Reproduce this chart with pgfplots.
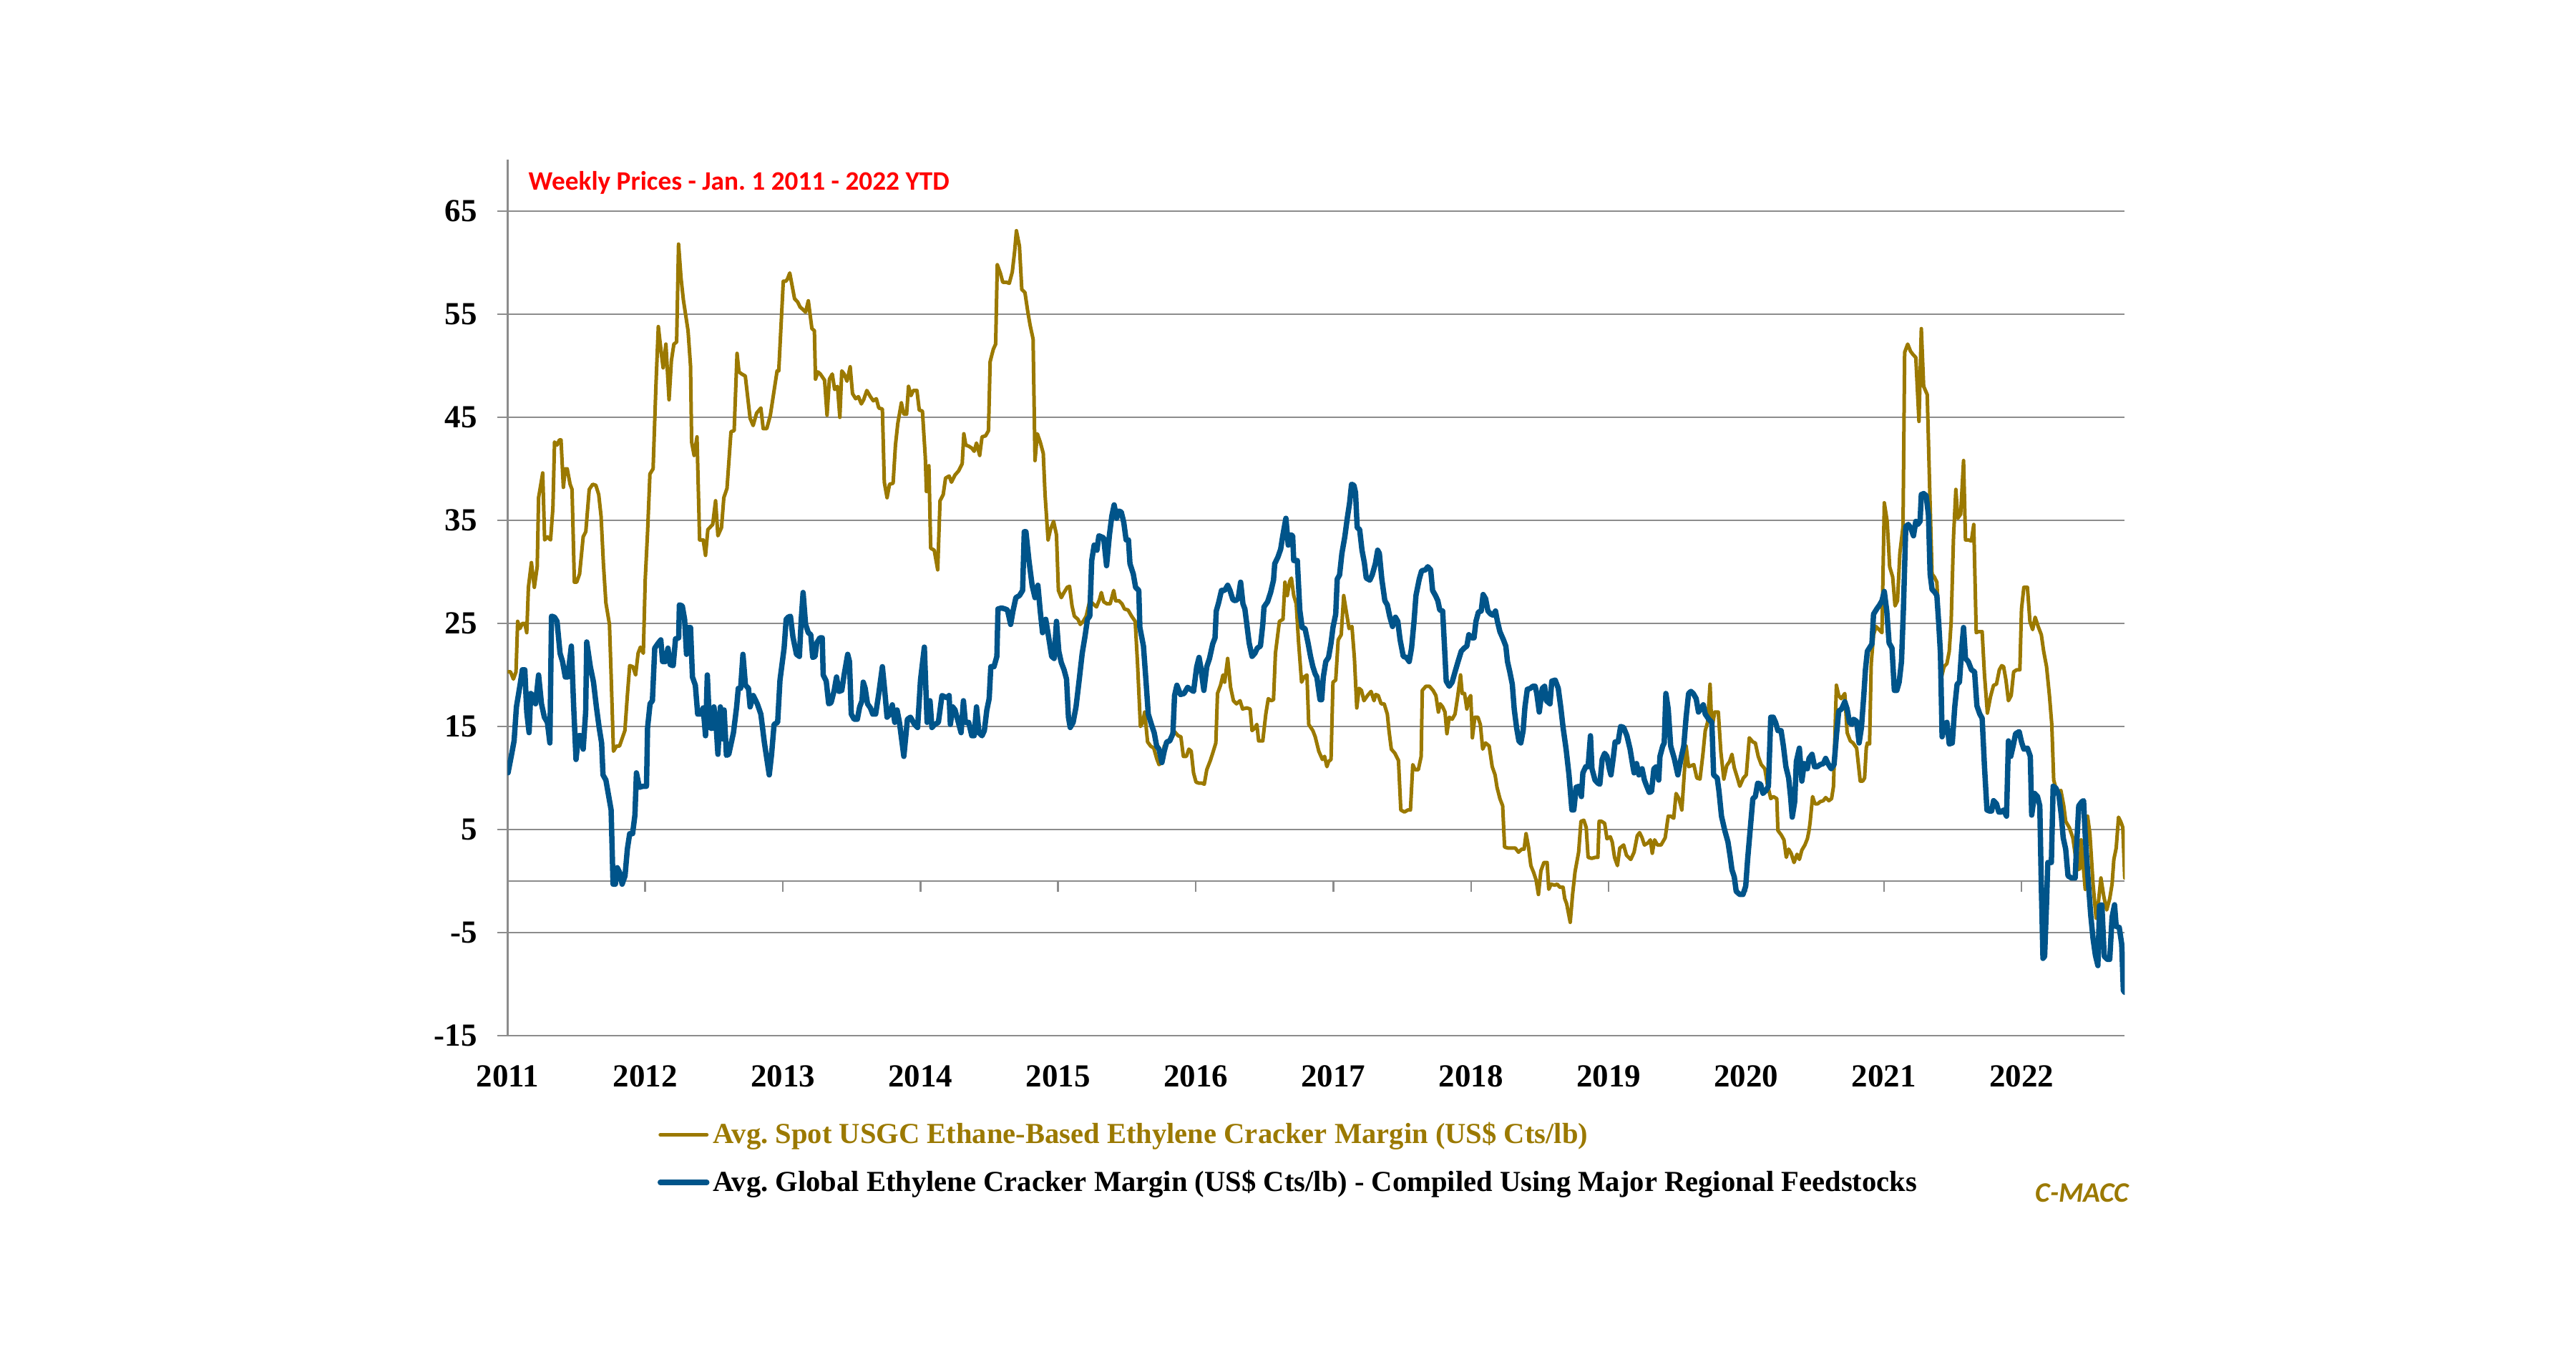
\documentclass[border=0pt]{standalone}
\usepackage{pgfplots}
\usepackage{pgfplotstable}
\pgfplotsset{compat=1.18}
\usepackage{fontspec}
\setmainfont{Liberation Serif}
\newfontfamily\calibri{Carlito}
\definecolor{gold}{RGB}{155,121,0}
\definecolor{navy}{RGB}{0,84,138}
\definecolor{gridgray}{RGB}{140,140,140}

\pgfplotstableread{
x y
2011.003 20.3
2011.021 20.3
2011.042 19.6
2011.061 20.3
2011.073 25.2
2011.090 24.5
2011.107 25.0
2011.125 25.0
2011.139 24.1
2011.151 28.5
2011.173 30.9
2011.194 28.5
2011.215 30.5
2011.225 37.2
2011.255 39.6
2011.269 33.1
2011.289 33.4
2011.312 33.1
2011.329 36.2
2011.341 42.6
2011.359 42.3
2011.376 42.8
2011.388 42.8
2011.405 38.2
2011.419 40.0
2011.433 40.0
2011.454 38.5
2011.468 38.0
2011.485 29.0
2011.502 29.0
2011.523 29.8
2011.549 33.4
2011.568 33.9
2011.593 38.0
2011.618 38.5
2011.641 38.4
2011.662 37.5
2011.679 35.4
2011.696 30.8
2011.714 27.0
2011.740 24.9
2011.752 20.0
2011.769 12.6
2011.792 13.1
2011.813 13.1
2011.852 14.6
2011.870 18.0
2011.887 20.9
2011.910 20.8
2011.930 20.0
2011.948 22.1
2011.965 22.7
2011.986 22.1
2012.000 29.3
2012.017 33.9
2012.034 39.5
2012.057 40.0
2012.078 48.2
2012.095 53.8
2012.116 51.3
2012.130 49.8
2012.150 52.1
2012.173 46.7
2012.190 50.5
2012.208 52.1
2012.228 52.3
2012.242 61.8
2012.260 58.5
2012.277 56.4
2012.294 54.9
2012.311 53.4
2012.329 50.0
2012.337 42.6
2012.355 41.3
2012.376 43.1
2012.395 33.1
2012.421 33.1
2012.438 31.6
2012.455 34.1
2012.490 34.6
2012.511 36.9
2012.528 33.5
2012.554 34.3
2012.571 37.2
2012.594 38.1
2012.623 43.6
2012.646 43.7
2012.667 51.2
2012.681 49.4
2012.701 49.2
2012.727 49.0
2012.762 44.9
2012.784 44.2
2012.809 45.4
2012.840 45.9
2012.857 43.9
2012.883 43.9
2012.909 45.2
2012.958 49.5
2012.970 49.5
2013.003 58.2
2013.021 58.2
2013.033 58.4
2013.050 59.0
2013.064 58.0
2013.085 56.5
2013.107 56.2
2013.125 55.7
2013.142 55.5
2013.165 55.2
2013.185 56.3
2013.211 53.6
2013.229 53.4
2013.237 48.7
2013.255 49.4
2013.272 49.2
2013.303 48.6
2013.321 45.2
2013.338 48.7
2013.359 49.2
2013.376 47.7
2013.397 48.0
2013.414 45.0
2013.428 49.5
2013.445 49.2
2013.466 48.5
2013.489 49.9
2013.506 47.3
2013.529 46.8
2013.549 47.0
2013.570 46.3
2013.587 46.7
2013.610 47.6
2013.636 47.0
2013.657 46.6
2013.679 46.8
2013.697 45.9
2013.723 45.8
2013.737 38.7
2013.757 37.2
2013.775 38.5
2013.801 38.6
2013.818 42.3
2013.835 44.4
2013.861 46.4
2013.879 45.3
2013.899 45.3
2013.913 48.0
2013.931 47.1
2013.948 47.6
2013.974 47.6
2013.991 45.7
2014.014 45.6
2014.035 41.1
2014.043 37.8
2014.061 40.3
2014.074 32.3
2014.100 32.1
2014.125 30.2
2014.142 36.9
2014.165 37.5
2014.182 39.1
2014.208 39.3
2014.225 38.7
2014.251 39.4
2014.277 39.8
2014.303 40.5
2014.315 43.4
2014.329 42.3
2014.350 42.2
2014.373 42.0
2014.390 41.7
2014.407 42.5
2014.430 41.3
2014.447 43.1
2014.473 43.2
2014.494 43.7
2014.506 50.4
2014.529 51.6
2014.546 52.1
2014.558 59.8
2014.580 59.0
2014.598 58.1
2014.624 58.1
2014.645 58.0
2014.667 59.1
2014.684 61.1
2014.697 63.1
2014.719 61.6
2014.736 57.4
2014.759 57.1
2014.780 55.2
2014.797 53.9
2014.818 52.6
2014.832 40.8
2014.849 43.4
2014.870 42.6
2014.892 41.5
2014.905 37.5
2014.927 33.1
2014.944 34.1
2014.967 34.9
2014.988 33.6
2015.002 28.2
2015.023 27.5
2015.043 28.0
2015.066 28.5
2015.083 28.6
2015.101 26.7
2015.118 25.7
2015.144 25.4
2015.161 24.9
2015.182 25.2
2015.204 25.7
2015.230 27.2
2015.253 26.9
2015.279 26.6
2015.300 27.3
2015.314 28.0
2015.331 27.1
2015.355 26.9
2015.378 26.9
2015.404 28.2
2015.418 27.2
2015.442 27.2
2015.464 26.9
2015.482 26.4
2015.508 26.3
2015.534 25.7
2015.560 25.2
2015.577 21.1
2015.598 15.0
2015.615 15.4
2015.629 16.4
2015.650 13.5
2015.672 13.1
2015.695 12.9
2015.716 11.9
2015.733 11.3
2015.754 11.5
2015.771 13.1
2015.794 13.4
2015.820 13.9
2015.846 14.5
2015.872 14.1
2015.892 14.0
2015.910 12.1
2015.932 12.1
2015.950 12.8
2015.967 12.6
2015.984 10.5
2016.002 9.6
2016.024 9.5
2016.045 9.5
2016.062 9.4
2016.080 10.8
2016.106 11.7
2016.123 12.4
2016.146 13.4
2016.158 18.2
2016.180 19.0
2016.198 20.0
2016.210 19.3
2016.232 21.6
2016.253 18.8
2016.274 17.5
2016.296 17.2
2016.322 17.5
2016.340 16.7
2016.371 16.8
2016.395 16.7
2016.409 14.6
2016.426 14.8
2016.444 15.2
2016.457 13.6
2016.487 13.6
2016.509 16.2
2016.527 17.7
2016.548 17.5
2016.565 17.6
2016.579 22.1
2016.608 25.2
2016.634 25.4
2016.648 29.0
2016.665 27.7
2016.683 29.1
2016.695 29.4
2016.712 27.7
2016.730 26.9
2016.747 23.2
2016.769 19.3
2016.787 19.8
2016.808 20.0
2016.821 15.2
2016.851 14.6
2016.868 14.0
2016.894 12.6
2016.920 11.8
2016.936 12.1
2016.953 11.1
2016.965 11.6
2016.983 11.8
2016.997 19.3
2017.017 19.5
2017.035 23.4
2017.057 23.9
2017.075 27.7
2017.092 26.3
2017.114 24.5
2017.135 24.7
2017.153 21.6
2017.170 16.8
2017.187 18.7
2017.204 18.5
2017.222 17.5
2017.248 18.0
2017.274 18.4
2017.295 17.5
2017.308 18.1
2017.326 18.0
2017.347 17.2
2017.369 17.2
2017.392 16.2
2017.404 14.6
2017.421 12.8
2017.447 12.4
2017.473 11.7
2017.490 6.9
2017.516 6.7
2017.542 6.9
2017.560 6.9
2017.577 11.3
2017.594 10.8
2017.617 10.8
2017.638 12.1
2017.646 18.5
2017.672 18.9
2017.698 18.9
2017.724 18.5
2017.745 18.0
2017.763 16.4
2017.776 17.2
2017.794 16.9
2017.811 16.4
2017.825 14.3
2017.842 15.9
2017.863 15.7
2017.884 16.2
2017.901 17.7
2017.924 20.0
2017.936 18.2
2017.953 18.2
2017.970 16.7
2017.984 17.7
2017.998 18.0
2018.010 13.9
2018.028 15.9
2018.050 15.9
2018.068 15.2
2018.085 12.8
2018.106 13.4
2018.132 13.1
2018.154 11.1
2018.175 10.3
2018.189 9.1
2018.210 8.0
2018.230 7.3
2018.244 3.3
2018.270 3.2
2018.296 3.2
2018.322 3.2
2018.345 2.8
2018.369 3.1
2018.386 3.1
2018.400 4.6
2018.418 3.3
2018.435 1.5
2018.456 0.8
2018.473 0.1
2018.490 -1.3
2018.508 1.0
2018.530 1.8
2018.553 1.8
2018.565 -0.8
2018.582 -0.3
2018.608 -0.4
2018.626 -0.3
2018.646 -0.6
2018.669 -0.6
2018.681 -1.7
2018.695 -2.2
2018.721 -4.0
2018.738 -1.3
2018.756 0.9
2018.782 2.8
2018.799 5.8
2018.820 5.9
2018.837 5.2
2018.851 2.3
2018.877 2.2
2018.903 2.3
2018.922 2.3
2018.931 5.8
2018.948 5.8
2018.971 5.6
2018.988 4.1
2019.012 4.3
2019.026 3.8
2019.043 2.3
2019.064 1.5
2019.081 3.2
2019.109 3.5
2019.130 2.5
2019.161 2.1
2019.185 2.8
2019.208 4.4
2019.225 4.7
2019.243 4.2
2019.260 3.5
2019.286 3.7
2019.303 4.0
2019.317 2.7
2019.334 4.0
2019.355 3.5
2019.381 3.5
2019.411 4.2
2019.433 6.3
2019.451 6.3
2019.473 6.1
2019.490 8.5
2019.511 8.0
2019.532 6.9
2019.546 9.7
2019.563 13.1
2019.581 11.1
2019.601 11.2
2019.619 11.3
2019.641 10.0
2019.664 9.9
2019.685 12.3
2019.702 14.6
2019.719 15.4
2019.737 19.1
2019.750 14.8
2019.771 16.4
2019.797 16.4
2019.815 12.6
2019.837 9.9
2019.858 11.2
2019.879 11.6
2019.896 12.3
2019.913 11.0
2019.936 10.0
2019.953 9.2
2019.979 10.0
2020.000 10.3
2020.022 13.9
2020.048 13.5
2020.066 13.4
2020.087 12.1
2020.109 11.3
2020.135 10.9
2020.152 9.5
2020.178 8.0
2020.196 8.2
2020.222 8.0
2020.230 4.9
2020.253 4.5
2020.274 4.0
2020.291 2.3
2020.308 3.1
2020.326 2.7
2020.347 1.8
2020.369 2.6
2020.386 2.1
2020.404 3.0
2020.426 3.5
2020.444 4.1
2020.456 4.9
2020.464 5.7
2020.482 8.2
2020.499 7.5
2020.520 7.5
2020.537 7.7
2020.560 7.8
2020.577 8.1
2020.600 7.8
2020.620 8.0
2020.634 9.2
2020.646 14.9
2020.655 19.0
2020.672 18.0
2020.690 17.7
2020.716 18.2
2020.733 14.4
2020.756 13.6
2020.776 13.4
2020.802 12.9
2020.828 9.7
2020.846 9.7
2020.860 10.0
2020.872 12.9
2020.880 13.4
2020.896 13.3
2020.908 21.1
2020.925 23.9
2020.943 24.7
2020.965 24.4
2020.986 24.1
2021.003 36.7
2021.024 34.9
2021.042 30.5
2021.064 29.5
2021.081 26.7
2021.099 27.2
2021.116 31.8
2021.139 34.4
2021.151 51.3
2021.173 52.1
2021.194 51.4
2021.211 51.1
2021.232 50.8
2021.255 44.6
2021.272 53.6
2021.289 48.0
2021.315 47.2
2021.333 38.0
2021.350 29.8
2021.367 29.5
2021.385 29.0
2021.402 24.1
2021.419 19.8
2021.437 20.8
2021.458 21.1
2021.475 22.3
2021.489 25.2
2021.506 33.4
2021.523 38.0
2021.537 35.2
2021.558 35.6
2021.579 40.8
2021.593 33.1
2021.613 33.1
2021.636 33.0
2021.653 34.6
2021.671 24.1
2021.688 24.2
2021.714 24.2
2021.731 20.0
2021.752 16.3
2021.775 17.9
2021.797 19.0
2021.818 19.1
2021.839 20.5
2021.856 20.9
2021.870 20.8
2021.887 19.5
2021.905 17.5
2021.925 18.0
2021.943 20.3
2021.965 20.5
2021.988 20.5
2022.000 26.4
2022.017 28.5
2022.043 28.5
2022.061 25.2
2022.081 24.4
2022.099 25.6
2022.121 24.7
2022.144 23.9
2022.161 22.3
2022.182 20.8
2022.203 18.0
2022.220 15.2
2022.234 9.8
2022.260 8.5
2022.286 8.8
2022.307 7.3
2022.321 5.8
2022.347 5.2
2022.373 4.2
2022.390 2.6
2022.407 1.1
2022.425 1.2
2022.433 4.0
2022.451 1.1
2022.463 -0.8
2022.480 6.3
2022.497 4.6
2022.520 -0.3
2022.542 -3.6
2022.560 -1.9
2022.577 0.3
2022.598 -1.5
2022.619 -2.8
2022.641 -1.7
2022.658 -0.3
2022.671 2.1
2022.688 3.2
2022.705 6.2
2022.723 5.7
2022.736 5.2
2022.750 0.3
}\goldtab

\pgfplotstableread{
x y
2011.003 10.5
2011.029 12.3
2011.047 13.6
2011.064 16.9
2011.090 19.0
2011.107 20.5
2011.125 20.5
2011.139 16.4
2011.156 14.4
2011.168 18.2
2011.185 18.0
2011.203 17.2
2011.225 20.0
2011.246 17.2
2011.267 15.9
2011.289 15.4
2011.307 13.4
2011.319 25.7
2011.341 25.6
2011.359 25.2
2011.381 22.1
2011.399 21.3
2011.419 19.8
2011.437 19.8
2011.463 22.8
2011.480 16.9
2011.497 11.8
2011.515 14.1
2011.532 14.1
2011.549 12.8
2011.567 16.4
2011.575 23.2
2011.601 20.8
2011.624 19.3
2011.645 16.9
2011.665 14.9
2011.683 13.4
2011.693 10.3
2011.714 9.8
2011.735 8.2
2011.752 6.9
2011.766 -0.3
2011.783 -0.3
2011.797 1.3
2011.815 0.8
2011.832 -0.3
2011.853 0.5
2011.870 3.1
2011.887 4.6
2011.908 4.6
2011.925 6.4
2011.936 10.5
2011.957 9.1
2011.983 9.2
2012.009 9.2
2012.017 14.9
2012.035 17.2
2012.052 17.5
2012.069 22.6
2012.095 23.1
2012.113 23.4
2012.126 21.3
2012.147 21.3
2012.165 22.6
2012.182 21.0
2012.203 20.9
2012.220 23.5
2012.243 23.6
2012.248 26.8
2012.269 26.7
2012.286 25.4
2012.300 22.0
2012.312 24.6
2012.329 24.6
2012.343 19.8
2012.364 19.0
2012.381 16.2
2012.404 16.2
2012.421 16.8
2012.438 14.1
2012.451 20.0
2012.468 14.9
2012.485 14.8
2012.499 16.9
2012.516 14.9
2012.528 12.3
2012.546 16.9
2012.559 13.8
2012.573 16.6
2012.590 12.2
2012.607 12.3
2012.641 14.4
2012.664 16.9
2012.676 18.7
2012.693 18.7
2012.710 22.0
2012.728 19.0
2012.750 18.7
2012.762 16.9
2012.785 18.0
2012.814 17.2
2012.840 16.2
2012.866 13.4
2012.901 10.3
2012.918 12.3
2012.936 15.2
2012.962 15.4
2012.979 19.5
2013.009 22.6
2013.024 25.4
2013.038 25.6
2013.055 25.7
2013.073 23.7
2013.099 22.0
2013.120 21.8
2013.133 25.3
2013.147 28.0
2013.165 24.9
2013.185 24.1
2013.203 23.9
2013.217 21.7
2013.234 21.8
2013.246 23.1
2013.269 23.6
2013.286 23.6
2013.293 20.0
2013.315 19.4
2013.333 17.2
2013.350 17.3
2013.373 18.5
2013.390 19.8
2013.407 18.4
2013.428 18.5
2013.445 20.0
2013.471 22.0
2013.484 21.3
2013.497 16.2
2013.518 15.7
2013.541 15.7
2013.558 16.9
2013.575 17.5
2013.584 19.3
2013.598 18.7
2013.615 17.2
2013.636 16.8
2013.653 16.2
2013.674 16.2
2013.697 18.2
2013.723 20.8
2013.740 18.5
2013.757 15.9
2013.778 16.2
2013.795 17.1
2013.813 15.4
2013.830 16.6
2013.847 15.4
2013.879 12.1
2013.905 15.7
2013.927 15.9
2013.957 15.2
2013.979 14.9
2014.000 19.5
2014.028 22.7
2014.048 15.4
2014.069 17.5
2014.083 14.9
2014.104 15.2
2014.130 15.4
2014.156 18.0
2014.173 17.9
2014.191 17.8
2014.208 18.0
2014.217 15.2
2014.234 16.9
2014.251 16.6
2014.269 15.7
2014.295 14.4
2014.312 17.5
2014.326 15.4
2014.350 15.4
2014.373 14.1
2014.390 14.1
2014.407 16.9
2014.425 14.4
2014.447 14.1
2014.464 14.6
2014.482 16.6
2014.499 17.7
2014.511 20.8
2014.534 20.8
2014.555 21.8
2014.563 26.4
2014.589 26.5
2014.615 26.4
2014.632 26.3
2014.655 24.9
2014.672 26.2
2014.693 27.5
2014.719 27.7
2014.742 28.2
2014.754 33.9
2014.766 33.9
2014.788 31.1
2014.811 28.7
2014.832 27.5
2014.853 28.7
2014.870 26.2
2014.887 24.1
2014.910 25.4
2014.932 23.6
2014.953 21.8
2014.971 21.6
2014.988 25.2
2015.005 22.3
2015.023 21.2
2015.043 20.5
2015.061 19.6
2015.075 15.9
2015.088 14.9
2015.109 15.4
2015.130 16.9
2015.153 19.5
2015.175 22.1
2015.196 23.8
2015.213 25.4
2015.230 25.7
2015.244 31.1
2015.262 32.6
2015.282 32.1
2015.296 33.5
2015.314 33.4
2015.331 33.3
2015.352 30.6
2015.373 33.6
2015.390 35.4
2015.407 36.5
2015.425 35.2
2015.442 35.9
2015.459 35.8
2015.477 34.8
2015.494 33.1
2015.511 33.1
2015.522 30.8
2015.546 29.8
2015.563 28.5
2015.586 28.2
2015.594 24.6
2015.620 22.8
2015.638 19.5
2015.655 16.2
2015.678 15.2
2015.698 14.4
2015.716 13.1
2015.733 12.8
2015.754 11.5
2015.771 12.6
2015.789 13.5
2015.811 13.6
2015.834 14.3
2015.846 18.0
2015.863 19.0
2015.889 18.1
2015.915 18.2
2015.941 18.8
2015.962 18.6
2015.984 18.4
2016.007 20.8
2016.024 21.7
2016.036 20.8
2016.059 18.5
2016.080 20.8
2016.100 21.6
2016.123 23.0
2016.140 23.6
2016.149 26.2
2016.166 27.0
2016.187 28.2
2016.210 28.2
2016.232 28.7
2016.249 28.2
2016.270 27.3
2016.288 27.2
2016.308 27.4
2016.326 29.0
2016.343 26.9
2016.357 26.4
2016.374 24.6
2016.388 23.1
2016.409 21.8
2016.430 22.1
2016.447 22.6
2016.470 22.8
2016.487 24.9
2016.496 26.6
2016.522 27.1
2016.544 28.0
2016.565 29.2
2016.574 30.8
2016.596 31.4
2016.617 32.2
2016.631 33.4
2016.655 35.2
2016.672 32.6
2016.690 33.6
2016.704 33.5
2016.712 31.1
2016.738 31.1
2016.756 26.3
2016.773 24.6
2016.794 24.5
2016.816 23.1
2016.834 21.8
2016.851 20.8
2016.868 20.1
2016.880 19.8
2016.903 17.6
2016.915 17.6
2016.927 19.8
2016.945 21.3
2016.965 21.7
2016.983 23.1
2016.997 24.6
2017.017 25.9
2017.028 29.3
2017.045 29.7
2017.062 31.8
2017.083 33.4
2017.101 35.2
2017.118 36.7
2017.132 38.5
2017.149 38.4
2017.161 37.7
2017.173 34.3
2017.191 34.1
2017.208 32.1
2017.225 30.9
2017.239 29.4
2017.265 29.2
2017.282 29.7
2017.305 30.8
2017.322 32.1
2017.334 31.8
2017.352 29.3
2017.374 27.2
2017.392 26.8
2017.409 25.7
2017.430 24.7
2017.451 25.6
2017.468 25.2
2017.485 23.4
2017.508 21.8
2017.530 21.7
2017.551 21.3
2017.568 22.6
2017.586 25.2
2017.600 27.7
2017.624 29.3
2017.641 30.1
2017.669 30.2
2017.686 30.5
2017.707 30.2
2017.721 28.2
2017.742 27.7
2017.759 27.2
2017.773 26.3
2017.794 26.2
2017.808 22.6
2017.820 19.4
2017.842 18.9
2017.863 19.3
2017.884 20.3
2017.906 21.3
2017.929 22.3
2017.950 22.6
2017.970 22.8
2017.984 23.9
2018.005 23.6
2018.022 23.6
2018.036 25.2
2018.054 26.1
2018.074 26.2
2018.088 27.8
2018.106 27.4
2018.123 26.2
2018.144 25.9
2018.161 25.8
2018.178 26.2
2018.192 25.2
2018.210 24.2
2018.236 23.4
2018.253 22.8
2018.265 21.3
2018.282 20.3
2018.300 19.1
2018.314 16.7
2018.331 14.9
2018.348 13.6
2018.362 13.4
2018.379 14.6
2018.392 16.9
2018.409 18.6
2018.431 18.7
2018.449 18.9
2018.466 18.9
2018.478 18.2
2018.496 16.4
2018.518 18.7
2018.535 18.9
2018.548 17.5
2018.574 17.2
2018.587 19.4
2018.612 19.5
2018.634 18.7
2018.652 16.9
2018.669 14.9
2018.691 12.8
2018.712 10.3
2018.733 6.9
2018.747 6.9
2018.764 9.1
2018.785 9.2
2018.802 8.2
2018.813 10.5
2018.834 11.1
2018.851 11.1
2018.868 14.1
2018.879 10.9
2018.901 9.8
2018.922 9.5
2018.936 9.4
2018.953 11.8
2018.971 12.4
2018.988 12.1
2019.005 10.9
2019.017 10.3
2019.035 12.1
2019.047 13.5
2019.069 13.5
2019.087 15.0
2019.109 14.9
2019.133 14.1
2019.156 12.8
2019.173 11.4
2019.185 10.5
2019.203 11.4
2019.220 10.3
2019.243 10.9
2019.260 9.8
2019.277 9.2
2019.295 8.6
2019.312 8.7
2019.329 10.9
2019.347 11.1
2019.364 9.8
2019.373 12.1
2019.393 13.1
2019.404 13.4
2019.416 18.2
2019.433 16.7
2019.451 13.1
2019.477 11.9
2019.503 10.3
2019.529 12.1
2019.546 13.1
2019.563 15.9
2019.581 18.2
2019.598 18.4
2019.615 18.2
2019.636 17.7
2019.653 16.4
2019.667 16.7
2019.688 17.1
2019.702 16.2
2019.728 15.7
2019.750 15.4
2019.763 10.3
2019.789 10.0
2019.802 8.7
2019.820 6.3
2019.844 4.9
2019.867 3.8
2019.884 2.3
2019.896 1.1
2019.913 0.4
2019.927 -1.0
2019.953 -1.3
2019.976 -1.3
2019.996 -0.5
2020.010 2.1
2020.028 4.9
2020.048 8.0
2020.066 8.2
2020.083 9.5
2020.104 9.4
2020.121 8.5
2020.144 8.8
2020.161 9.2
2020.178 15.9
2020.196 15.9
2020.213 15.4
2020.230 14.6
2020.253 14.6
2020.270 13.1
2020.288 11.1
2020.308 10.0
2020.322 8.2
2020.334 6.2
2020.352 7.7
2020.364 11.6
2020.386 12.9
2020.404 9.7
2020.421 11.4
2020.444 10.9
2020.456 11.9
2020.478 12.3
2020.496 11.1
2020.516 11.1
2020.537 11.3
2020.560 11.4
2020.577 11.9
2020.594 11.4
2020.617 10.9
2020.638 11.3
2020.655 14.1
2020.672 16.5
2020.693 16.7
2020.716 17.4
2020.733 16.7
2020.750 15.4
2020.768 15.2
2020.780 15.7
2020.802 15.5
2020.820 13.4
2020.837 14.9
2020.854 18.0
2020.866 20.5
2020.880 22.3
2020.913 23.0
2020.925 25.9
2020.948 26.4
2020.969 26.8
2020.986 27.2
2021.003 28.1
2021.021 26.2
2021.038 23.1
2021.059 22.6
2021.076 18.5
2021.094 18.5
2021.111 19.3
2021.128 21.3
2021.142 26.4
2021.159 34.4
2021.177 34.6
2021.194 34.3
2021.215 33.5
2021.232 34.9
2021.246 34.6
2021.263 34.9
2021.272 37.5
2021.289 37.6
2021.307 37.4
2021.324 35.5
2021.336 29.8
2021.350 28.3
2021.371 28.0
2021.385 27.7
2021.399 24.9
2021.411 22.1
2021.423 14.0
2021.440 15.2
2021.458 15.4
2021.475 13.3
2021.497 13.4
2021.515 16.9
2021.532 19.1
2021.549 19.3
2021.567 22.8
2021.579 24.6
2021.593 21.6
2021.613 21.3
2021.636 20.5
2021.659 20.3
2021.676 17.0
2021.697 16.2
2021.714 15.8
2021.731 11.1
2021.749 6.9
2021.766 6.8
2021.783 6.8
2021.797 7.8
2021.818 7.5
2021.835 6.7
2021.853 6.7
2021.870 6.9
2021.891 6.3
2021.905 13.6
2021.922 12.1
2021.939 13.1
2021.957 14.3
2021.983 14.5
2022.000 13.5
2022.017 12.8
2022.043 12.9
2022.064 12.1
2022.074 6.4
2022.095 8.5
2022.116 8.2
2022.133 7.3
2022.144 -0.5
2022.156 -7.5
2022.168 -7.3
2022.182 -2.1
2022.191 1.8
2022.217 1.8
2022.230 9.2
2022.251 9.0
2022.272 8.3
2022.289 6.4
2022.303 4.2
2022.321 3.1
2022.338 0.5
2022.364 0.3
2022.390 0.3
2022.399 3.1
2022.416 7.3
2022.438 7.7
2022.451 7.8
2022.463 4.4
2022.485 0.0
2022.503 -3.3
2022.520 -5.6
2022.537 -7.2
2022.555 -8.2
2022.567 -2.4
2022.584 -2.3
2022.601 -7.3
2022.624 -7.6
2022.641 -7.6
2022.658 -3.5
2022.676 -2.3
2022.688 -4.4
2022.710 -4.5
2022.728 -6.1
2022.740 -10.6
2022.750 -10.8
}\bluetab

\begin{document}
\frenchspacing
\begin{tikzpicture}
\path[use as bounding box] (0,0) rectangle (360mm,188.1mm);
\begin{axis}[
  at={(70.94mm,43.4mm)}, anchor=south west,
  scale only axis, width=225.99mm, height=122.4mm,
  xmin=2011, xmax=2022.75, ymin=-15, ymax=70,
  axis x line*=bottom, axis y line*=left,
  x axis line style={draw=none},
  y axis line style={draw=gridgray, line width=0.25mm},
  xtick={2011,2012,2013,2014,2015,2016,2017,2018,2019,2020,2021,2022},
  xticklabels={2011,2012,2013,2014,2015,2016,2017,2018,2019,2020,2021,2022},
  x tick style={draw=none},
  ytick={-15,-5,5,15,25,35,45,55,65},
  yticklabels={-15,-5,5,15,25,35,45,55,65},
  ymajorgrids,
  y grid style={draw=gridgray, line width=0.22mm},
  y tick style={draw=gridgray, line width=0.22mm},
  tick align=outside, major tick length=1.4mm,
  tick label style={font=\fontsize{12.8}{14}\selectfont\bfseries, inner sep=0pt},
  y tick label style={anchor=east, xshift=-2.8mm},
  x tick label style={anchor=north, yshift=-2.65mm},
  legend style={at={(axis description cs:0.09275,-0.0959)}, anchor=north west,
    draw=none, fill=none, inner sep=0pt, outer sep=0pt,
    row sep=2.43mm, column sep=0.5mm,
    font=\fontsize{11.55}{13}\selectfont\bfseries,
    nodes={inner sep=0pt, text height=0.95em, text depth=0.25em}},
  legend cell align=left,
  legend image code/.code={\draw[#1, line cap=round] (0.2mm,0mm) -- (6.7mm,0mm);},
]
\draw[gridgray, line width=0.22mm] (axis cs:2011,0) -- (axis cs:2022.75,0);
\pgfplotsinvokeforeach{2012,2013,2014,2015,2016,2017,2018,2019,2020,2021,2022}{
  \draw[gridgray, line width=0.25mm] (axis cs:#1,0) -- ([yshift=-1.5mm]axis cs:#1,0);
}
\addplot[gold, line width=0.5mm, line join=round, line cap=round] table[x=x,y=y] {\goldtab};
\addlegendentry{\textcolor{gold}{Avg. Spot USGC Ethane-Based Ethylene Cracker Margin (US\$ Cts/lb)}}
\addplot[navy, line width=0.75mm, line join=round, line cap=round] table[x=x,y=y] {\bluetab};
\addlegendentry{Avg. Global Ethylene Cracker Margin (US\$ Cts/lb) - Compiled Using Major Regional Feedstocks}
\end{axis}
\node[anchor=base west, text=red, inner sep=0pt, font=\calibri\bfseries\fontsize{10.6}{12}\selectfont] at (73.8mm,161.5mm) {Weekly Prices - Jan. 1 2011 - 2022 YTD};
\node[anchor=east, text=gold, inner sep=0pt, font=\calibri\bfseries\itshape\fontsize{11.2}{12}\selectfont] at (297.6mm,21.4mm) {C-MACC};
\end{tikzpicture}
\end{document}
